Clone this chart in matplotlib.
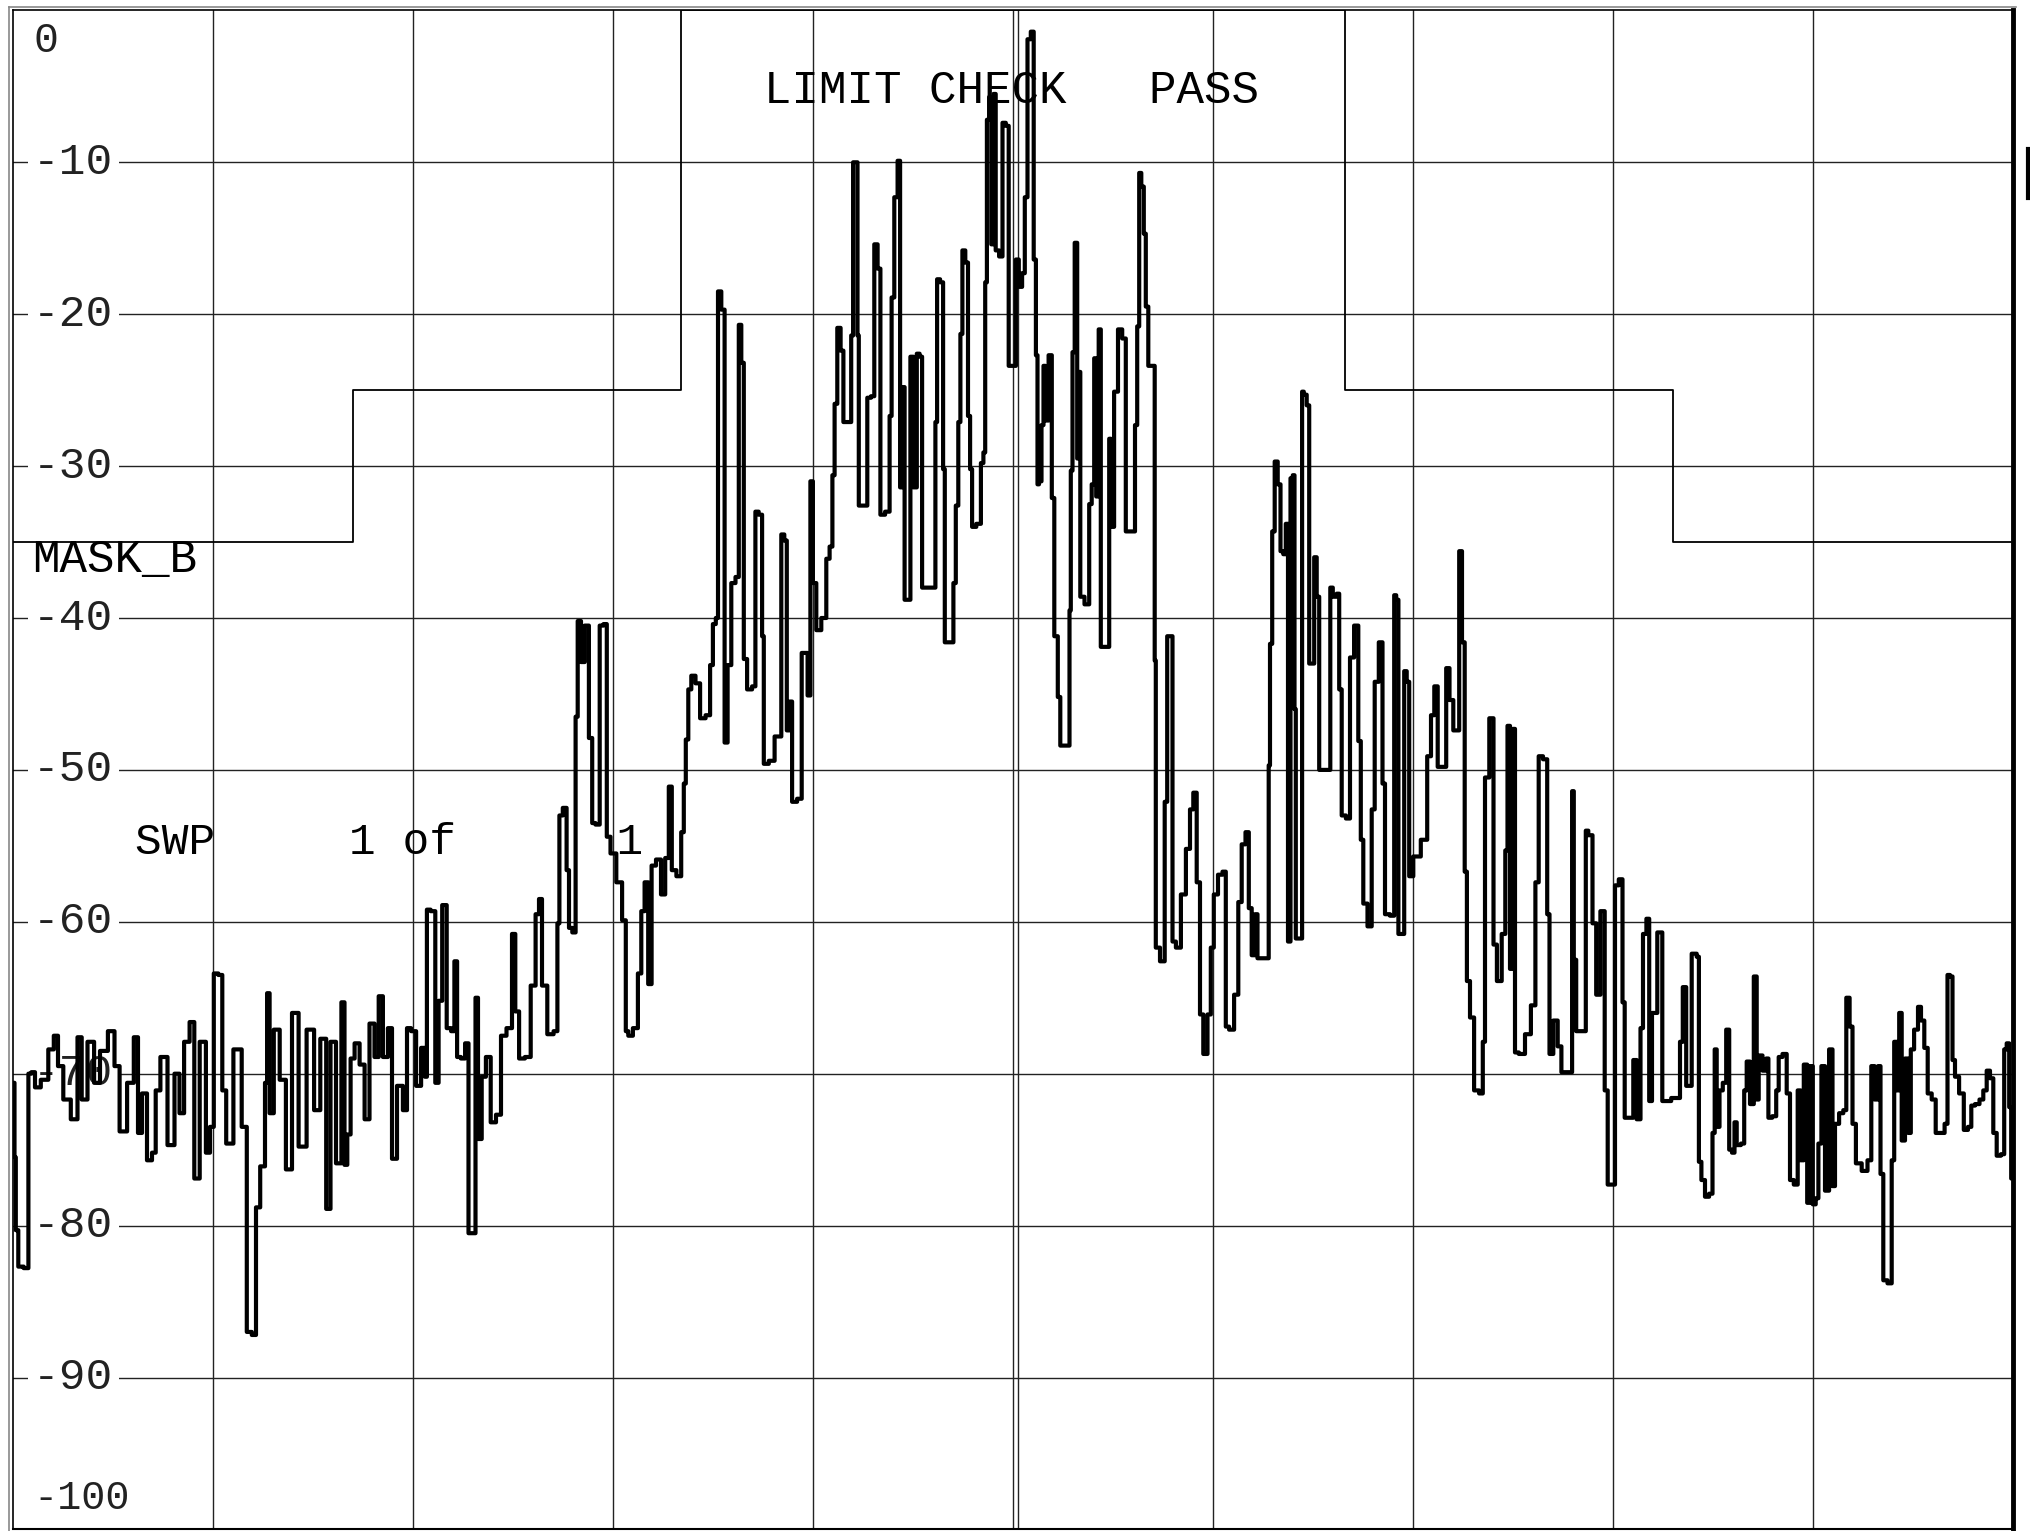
import matplotlib.pyplot as plt
from matplotlib.lines import Line2D

# spectrum trace, x in screen divisions (0..10), level in dB
x_div = [0.005, 0.01, 0.018, 0.035, 0.072, 0.082, 0.102, 0.118, 0.16, 0.193, 0.215, 0.235, 0.268, 0.31,
         0.335, 0.352, 0.393, 0.418, 0.452, 0.497, 0.518, 0.548, 0.593, 0.615, 0.635, 0.655, 0.685,
         0.705, 0.722, 0.752, 0.793, 0.822, 0.843, 0.868, 0.898, 0.915, 0.952, 0.977, 0.993, 1.015,
         1.038, 1.055, 1.077, 1.127, 1.16, 1.178, 1.21, 1.22, 1.252, 1.268, 1.273, 1.293, 1.315,
         1.352, 1.377, 1.413, 1.443, 1.493, 1.518, 1.555, 1.577, 1.598, 1.632, 1.652,
         1.663, 1.68, 1.696, 1.72, 1.746, 1.77, 1.795, 1.82, 1.837, 1.862, 1.887, 1.903, 1.937, 1.962,
         1.978, 2.003, 2.028, 2.053, 2.066, 2.073, 2.103, 2.12, 2.136, 2.156, 2.181, 2.2, 2.214, 2.227,
         2.252, 2.269, 2.286, 2.31, 2.315, 2.335, 2.352, 2.377, 2.4, 2.43, 2.45, 2.485, 2.505, 2.518,
         2.543, 2.576, 2.601, 2.625, 2.635, 2.655, 2.688, 2.718, 2.726, 2.738, 2.76, 2.776, 2.784,
         2.809, 2.817, 2.83, 2.85, 2.867, 2.892, 2.9, 2.925, 2.942, 2.963, 2.975, 3.0, 3.033, 3.058,
         3.07, 3.083, 3.116, 3.133, 3.15, 3.166, 3.186, 3.2, 3.23, 3.25, 3.272, 3.286, 3.302, 3.332,
         3.35, 3.358, 3.37, 3.383, 3.4, 3.425, 3.446, 3.48, 3.491, 3.508, 3.52, 3.53, 3.553, 3.563,
         3.583, 3.6, 3.625, 3.633, 3.65, 3.658, 3.683, 3.708, 3.716, 3.741, 3.75, 3.758, 3.8, 3.816,
         3.833, 3.85, 3.863, 3.875, 3.891, 3.9, 3.941, 3.946, 3.963, 3.983, 3.991, 4.008, 4.025,
         4.058, 4.075, 4.091, 4.103, 4.113, 4.13, 4.146, 4.158, 4.186, 4.196, 4.205, 4.22, 4.225,
         4.233, 4.263, 4.28, 4.3, 4.313, 4.333, 4.341, 4.38, 4.386, 4.4, 4.413, 4.433, 4.438, 4.453,
         4.463, 4.483, 4.491, 4.513, 4.525, 4.541, 4.55, 4.608, 4.616, 4.625, 4.646, 4.655, 4.663,
         4.696, 4.708, 4.72, 4.733, 4.741, 4.753, 4.77, 4.78, 4.791, 4.8, 4.833, 4.846, 4.858, 4.864,
         4.875, 4.886, 4.897, 4.908, 4.919, 4.942, 4.953, 4.975, 4.982, 5.009, 5.02, 5.038, 5.053,
         5.065, 5.08, 5.098, 5.109, 5.12,
         5.125, 5.135, 5.15, 5.155, 5.168, 5.188, 5.2, 5.213, 5.235, 5.238, 5.28, 5.285, 5.293, 5.302,
         5.315, 5.327, 5.335, 5.338, 5.377, 5.385, 5.402, 5.41, 5.422, 5.435, 5.443, 5.477, 5.485,
         5.493, 5.518, 5.532, 5.56, 5.568, 5.605, 5.615, 5.627, 5.635, 5.648, 5.66, 5.668, 5.685,
         5.707, 5.71, 5.718, 5.752, 5.765, 5.777, 5.793, 5.802, 5.827, 5.852, 5.877, 5.893, 5.91,
         5.927, 5.943, 5.96, 5.985, 5.993, 6.015, 6.035, 6.06, 6.068, 6.093, 6.118, 6.135, 6.152,
         6.173, 6.185, 6.202, 6.218, 6.227, 6.277, 6.28, 6.29, 6.302, 6.315, 6.332, 6.343, 6.36,
         6.368, 6.382, 6.393, 6.405, 6.41, 6.418, 6.443, 6.448, 6.46, 6.477, 6.485, 6.502, 6.51,
         6.527, 6.535, 6.585, 6.588, 6.61, 6.627, 6.635, 6.652, 6.677,
         6.693, 6.718, 6.735, 6.743, 6.76, 6.785, 6.802, 6.815, 6.843, 6.852, 6.868, 6.902, 6.91,
         6.922, 6.932, 6.952, 6.96, 6.977, 6.985, 7.018, 7.06, 7.082, 7.098, 7.115, 7.132, 7.16,
         7.172, 7.193, 7.21, 7.227, 7.235, 7.255, 7.262, 7.277, 7.293, 7.318, 7.343, 7.355, 7.365,
         7.398, 7.407, 7.432, 7.455, 7.468, 7.477, 7.493, 7.505, 7.515, 7.543, 7.577, 7.602, 7.622,
         7.635, 7.665, 7.677, 7.688, 7.715, 7.732, 7.752, 7.793, 7.798, 7.81, 7.822, 7.86, 7.868,
         7.885, 7.91, 7.922, 7.952, 7.965, 7.982, 8.005, 8.015, 8.043, 8.052, 8.065, 8.098, 8.105,
         8.132, 8.143, 8.157, 8.177, 8.185, 8.205, 8.238, 8.255, 8.327, 8.343, 8.355, 8.377,
         8.41, 8.427, 8.432, 8.452, 8.468, 8.493, 8.502, 8.515, 8.522, 8.543, 8.555, 8.577, 8.585,
         8.605, 8.61, 8.627, 8.652, 8.66, 8.677, 8.693, 8.715, 8.722, 8.735, 8.76, 8.772, 8.782,
         8.81, 8.822, 8.835, 8.86, 8.877, 8.893, 8.915, 8.932, 8.943, 8.965, 8.977, 8.993, 9.005,
         9.022, 9.032, 9.052, 9.068, 9.093, 9.102, 9.118, 9.143, 9.16, 9.173, 9.193, 9.202, 9.227,
         9.26, 9.285, 9.298, 9.318, 9.332, 9.343, 9.36, 9.385, 9.402, 9.41, 9.427, 9.435, 9.452,
         9.468, 9.485, 9.493, 9.518, 9.532, 9.548, 9.565, 9.582, 9.605, 9.622, 9.648, 9.668, 9.677,
         9.693, 9.702, 9.718, 9.743, 9.765, 9.785, 9.798, 9.822, 9.843, 9.86, 9.877, 9.893, 9.91,
         9.927, 9.952, 9.96, 9.977, 9.985, 9.997]

level_db = [-70.6, -75.5, -80.3, -82.7, -82.8, -70.0, -69.9, -70.9, -70.4, -68.4, -67.5, -69.5, -71.7, -73.0,
            -67.6, -71.7, -67.9, -70.6, -68.5, -67.2, -69.5, -73.8, -70.6, -67.6, -73.9, -71.3, -75.7,
            -75.2, -71.1, -68.9, -74.7, -70.0, -72.6, -67.9, -66.6, -76.9, -67.9, -75.2, -73.5, -63.4,
            -63.5, -71.1, -74.6, -68.4, -73.5, -87.0, -87.2, -78.8, -76.1, -70.6, -64.7, -72.6, -67.1,
            -70.4, -76.3, -66.0, -74.8, -67.1, -72.4, -67.7, -78.9, -67.9, -75.9, -65.3,
            -76.0, -74.0, -69.0, -68.0, -69.4, -73.0, -66.7, -68.9, -64.9, -68.9, -67.0, -75.6, -70.8, -72.4,
            -67.0, -67.2, -70.8, -68.3, -70.2, -59.2, -59.3, -70.6, -65.2, -58.9, -67.0, -67.2, -62.6, -68.9,
            -69.0, -68.0, -80.5, -80.5, -65.0, -74.3, -70.2, -68.9, -73.2, -72.7, -67.5, -67.0, -60.8, -65.9,
            -69.0, -68.9, -64.2, -59.5, -58.5, -64.2, -67.4, -67.2, -60.1, -53.0, -52.5, -56.6, -60.4,
            -60.7, -46.5, -40.2, -42.9, -40.5, -47.9, -53.5, -53.6, -40.5, -40.4, -54.4, -55.5, -57.4, -59.9,
            -67.2, -67.5, -67.0, -63.4, -59.3, -57.4, -64.1, -56.3, -55.9, -58.2, -55.8, -51.1, -56.6, -57.0,
            -54.1, -50.9, -48.0, -44.7, -43.8, -44.3, -46.6, -46.4, -43.1, -40.4, -40.0, -18.5, -19.7, -48.2,
            -43.1, -37.7, -37.3, -20.7, -23.2, -42.7, -44.7, -44.5, -33.0, -33.2, -41.2, -49.6, -49.4, -47.8,
            -47.8, -34.5, -34.9, -47.4, -45.5, -52.1, -51.9, -42.3, -42.3, -45.1, -31.0, -37.7, -40.8,
            -40.0, -36.1, -35.3, -30.6, -25.9, -20.9, -22.4, -27.1, -27.1, -21.4, -10.0, -10.0, -21.4,
            -32.6, -32.6, -25.5, -25.4, -15.4, -17.0, -33.2, -33.0, -26.7, -18.9, -12.3, -9.9, -31.4, -24.8,
            -38.8, -38.8, -22.8, -31.4, -22.6, -22.8, -38.0, -38.0, -27.1, -17.7, -17.9, -30.2, -41.6,
            -41.6, -37.7, -32.6, -27.1, -21.3, -15.8, -16.6, -26.7, -30.2, -34.0, -33.8, -29.8, -29.1, -17.9,
            -7.2, -5.7, -15.4, -5.5, -15.8, -16.2, -7.4, -7.6, -23.4, -23.4, -16.4, -18.2, -17.3,
            -12.3, -1.9, -1.4, -16.4, -22.7,
            -31.2, -31.0, -27.3, -23.4, -27.0, -22.7, -32.1, -41.2, -45.2, -48.4, -48.4, -39.5, -30.3, -22.5,
            -15.3, -29.5, -23.8, -38.6, -39.1, -32.5, -31.2, -22.9, -32.0, -21.0, -41.9, -41.9, -28.2,
            -34.0, -25.1, -21.0, -21.6, -34.3, -34.3, -27.3, -20.8, -10.7, -11.6, -14.7, -19.5, -23.4,
            -23.4, -42.8, -61.7, -62.6, -52.1, -41.2, -41.2, -61.3, -61.7, -58.2, -55.2, -52.6, -51.5,
            -57.4, -66.1, -68.7, -66.1, -61.7, -58.2, -56.9, -56.7, -66.9, -67.1, -64.8, -58.7, -54.9,
            -54.1, -59.1, -62.2, -59.5, -62.4, -62.4, -49.7, -41.7, -34.3, -29.7, -31.2, -35.6, -35.8,
            -33.8, -61.3, -30.8, -30.6, -46.0, -61.1, -61.1, -25.1, -25.3, -26.0, -43.0, -43.0, -36.0,
            -38.6, -50.0, -50.0, -38.0, -38.6, -38.4, -44.7, -53.0, -53.2,
            -42.6, -40.5, -48.1, -54.6, -58.8, -60.3, -52.6, -44.2, -41.6, -50.9, -59.5, -59.6, -38.5,
            -38.8, -60.8, -60.8, -43.5, -44.2, -57.0, -55.7, -54.6, -49.1, -46.4, -44.5, -49.8, -49.8,
            -43.3, -45.4, -47.4, -47.4, -35.6, -41.6, -56.7, -63.9, -66.3, -71.1, -71.3, -67.9, -50.5,
            -46.6, -61.5, -63.9, -60.8, -55.3, -47.1, -63.1, -47.3, -68.6, -68.7, -67.4, -65.5, -57.4,
            -49.1, -49.3, -59.5, -68.7, -66.5, -68.2, -69.9, -69.9, -51.4, -62.5, -67.2, -67.2, -54.0,
            -54.3, -60.1, -64.8, -59.3, -71.1, -77.3, -77.3, -57.6, -57.2, -65.3, -72.9, -72.9, -69.1,
            -73.0, -67.0, -60.8, -59.8, -71.8, -66.0, -60.7, -71.8, -71.6, -67.9, -64.3, -70.8,
            -62.1, -62.3, -75.8, -77.0, -78.1, -77.9, -73.9, -68.4, -73.5, -71.1, -70.6, -67.1, -75.0,
            -75.2, -73.2, -74.7, -74.6, -71.1, -69.2, -72.0, -63.6, -71.7, -68.8, -69.8, -69.0, -72.9,
            -72.8, -71.1, -68.9, -68.7, -71.3, -77.0, -77.3, -71.1, -75.7, -69.4, -78.5, -69.5, -78.6,
            -78.2, -74.6, -69.5, -77.7, -68.4, -77.4, -73.3, -72.6, -72.4, -65.0, -66.9, -73.3, -75.9,
            -76.4, -75.7, -69.5, -71.7, -69.5, -76.6, -83.6, -83.8, -75.7, -67.9, -71.1, -66.0, -74.4,
            -69.0, -73.9, -68.4, -67.1, -65.6, -66.5, -68.3, -71.3, -71.7, -73.9, -73.9, -73.3, -63.5,
            -63.6, -69.1, -70.2, -71.3, -73.7, -73.5, -72.1, -72.0, -71.7, -71.1, -69.8, -70.3, -73.9,
            -75.4, -75.3, -68.4, -68.0, -72.2, -76.9]

# limit mask
mask_x = [0, 1.7, 1.7, 3.34, 3.34, 6.66, 6.66, 8.3, 8.3, 10]
mask_db = [-35, -35, -25, -25, 0, 0, -25, -25, -35, -35]

grid_db = [-10, -20, -30, -40, -50, -60, -70, -80, -90]
grid_div = [1, 2, 3, 4, 5, 6, 7, 8, 9]
tick_labels = ["-10", "-20", "-30", "-40", "-50", "-60", "-70", "-80", "-90"]

mono = "Liberation Mono"

fig = plt.figure(figsize=(20.3, 15.31), dpi=100)
ax = fig.add_axes([13 / 2030, 1 - 1529.4 / 1531, 2000 / 2030, 1519 / 1531])
ax.set_xlim(0, 10)
ax.set_ylim(-100, 0)
ax.set_xticks([])
ax.set_yticks([])

# graticule
for d in grid_div:
    ax.axvline(d, color="#222222", lw=1.0, zorder=1)
ax.axvline(5.025, color="#222222", lw=1.0, zorder=1)  # doubled centre line
for v in grid_db:
    ax.axhline(v, color="#222222", lw=1.0, zorder=1)

# amplitude labels sit on the grid with a white box
for v, lab in zip(grid_db, tick_labels):
    ax.text(0.1, v, lab, fontsize=32, family=mono, ha="left", va="center", color="#222222",
            bbox=dict(boxstyle="square,pad=0.12", fc="white", ec="none"), zorder=2)
ax.text(0.1, -2.0, "0", fontsize=30, family=mono, ha="left", va="center", color="#222222", zorder=2)
ax.text(0.1, -97.9, "-100", fontsize=29, family=mono, ha="left", va="center", color="#222222", zorder=2)

ax.plot(mask_x, mask_db, color="black", lw=1.3, zorder=2.5)
ax.plot(x_div, level_db, color="black", lw=3.0, drawstyle="steps-mid", zorder=4)

ax.text(3.755, -5.3, "LIMIT CHECK   PASS", fontsize=33, family=mono, ha="left", va="center", zorder=3)
ax.text(0.096, -36.2, "MASK_B", fontsize=33, family=mono, ha="left", va="center", zorder=3)
ax.text(0.608, -54.8, "SWP     1 of      1", fontsize=32, family=mono, ha="left", va="center", zorder=3)

for side in ["left", "top"]:
    ax.spines[side].set_linewidth(1.2)
ax.spines["bottom"].set_linewidth(1.5)
ax.spines["right"].set_linewidth(3.5)

# outer grey frame lines on left and top
fig.add_artist(Line2D([8.5 / 2030, 8.5 / 2030], [0, 1 - 7 / 1531], color="#888888", lw=1.2))
fig.add_artist(Line2D([8.5 / 2030, 2016 / 2030], [1 - 7 / 1531, 1 - 7 / 1531], color="#888888", lw=1.2))

# clipped glyph stroke at the right edge
fig.add_artist(Line2D([2027.5 / 2030, 2027.5 / 2030], [1 - 149 / 1531, 1 - 198 / 1531],
                      color="black", lw=3))

fig.savefig("out.png", dpi=100)
